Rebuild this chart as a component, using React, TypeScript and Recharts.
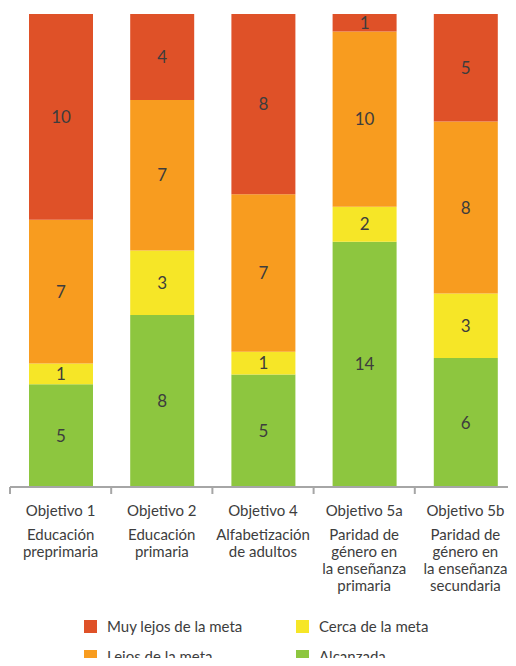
import React from "react";
import { BarChart, Bar, XAxis, YAxis, Legend, LabelList } from "recharts";

const objetivos = ["Objetivo 1", "Objetivo 2", "Objetivo 4", "Objetivo 5a", "Objetivo 5b"];
const descripciones = [
  ["Educación", "preprimaria"],
  ["Educación", "primaria"],
  ["Alfabetización", "de adultos"],
  ["Paridad de", "género en", "la enseñanza", "primaria"],
  ["Paridad de", "género en", "la enseñanza", "secundaria"],
];
const alcanzada = [5, 8, 5, 14, 6];
const cerca = [1, 3, 1, 2, 3];
const lejos = [7, 7, 7, 10, 8];
const muyLejos = [10, 4, 8, 1, 5];

const SERIES = [
  { key: "alcanzada", name: "Alcanzada", color: "#8DC63F" },
  { key: "cerca", name: "Cerca de la meta", color: "#F6E627" },
  { key: "lejos", name: "Lejos de la meta", color: "#F89C1F" },
  { key: "muyLejos", name: "Muy lejos de la meta", color: "#DF5128" },
];

const data = objetivos.map((o, i) => ({
  objetivo: o,
  alcanzada: alcanzada[i],
  cerca: cerca[i],
  lejos: lejos[i],
  muyLejos: muyLejos[i],
}));

const FONT = "Lato, 'Open Sans', sans-serif";
const CHART_W = 516;
const LEFT = 10;
const BAND = (CHART_W - LEFT) / objetivos.length;

const CategoryTick = (props: any) => {
  const { x, y, payload } = props;
  const idx = payload.index;
  const lines = descripciones[idx] || [];
  return (
    <g>
      <line x1={x - BAND / 2} x2={x - BAND / 2} y1={y} y2={y + 7} stroke="#a6a6a6" strokeWidth={2} />
      <text x={x} y={y + 29} textAnchor="middle" fill="#3d3d3d" fontSize={15} fontFamily={FONT}>
        {payload.value}
      </text>
      <text textAnchor="middle" fill="#3d3d3d" fontSize={15} fontFamily={FONT}>
        {lines.map((l, i) => (
          <tspan key={i} x={x} y={y + 53 + i * 17}>
            {l}
          </tspan>
        ))}
      </text>
    </g>
  );
};

const legendOrder = ["muyLejos", "cerca", "lejos", "alcanzada"];

const LegendContent = () => (
  <div
    style={{
      display: "grid",
      gridTemplateColumns: "212px 200px",
      rowGap: 10,
      paddingLeft: 74,
      paddingTop: 20,
      fontFamily: FONT,
      fontSize: 15,
      color: "#3d3d3d",
    }}
  >
    {legendOrder.map((k) => {
      const s = SERIES.find((x) => x.key === k)!;
      return (
        <div key={k} style={{ display: "flex", alignItems: "center", height: 20 }}>
          <span style={{ width: 13, height: 13, background: s.color, marginRight: 10, display: "inline-block" }} />
          {s.name}
        </div>
      );
    })}
  </div>
);

export default function App() {
  return (
    <div style={{ margin: -8, width: CHART_W, height: 666, background: "#fff", overflow: "hidden" }}>
      <BarChart
        width={CHART_W}
        height={666}
        data={data}
        stackOffset="expand"
        margin={{ top: 14, right: 0, left: LEFT, bottom: 0 }}
      >
        <XAxis
          dataKey="objetivo"
          axisLine={{ stroke: "#a6a6a6", strokeWidth: 2 }}
          tickLine={false}
          tickSize={0}
          tickMargin={0}
          height={109}
          interval={0}
          tick={<CategoryTick />}
        />
        <YAxis hide domain={[0, 1]} />
        <Legend verticalAlign="bottom" height={70} content={<LegendContent />} />
        {SERIES.map((s) => (
          <Bar key={s.key} dataKey={s.key} name={s.name} stackId="a" fill={s.color} barSize={64} isAnimationActive={false}>
            <LabelList dataKey={s.key} position="center" fill="#3d3d3d" fontSize={17} fontFamily={FONT} />
          </Bar>
        ))}
      </BarChart>
    </div>
  );
}
